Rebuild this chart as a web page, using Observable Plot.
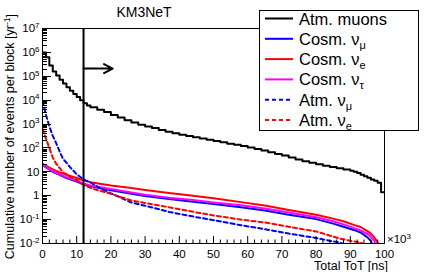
<!DOCTYPE html>
<html><head><meta charset="utf-8">
<script src="https://cdn.jsdelivr.net/npm/d3@7"></script>
<script src="https://cdn.jsdelivr.net/npm/@observablehq/plot@0.6"></script>
<style>
body{margin:0;background:#fff}
svg{font-family:"Liberation Sans",Arial,sans-serif}
</style>
</head><body><div id="chart"></div>
<script>
// ---- data (x in units of 10^3 ns, y in events per block per year) ----
const muX = [0,1,2,3,4,5,6,7,8,9,10,11,12,13,14,16,18,20,22,24,26,28,30,32,34,36,38,40,42,44,46,48,50,52,54,56,58,60,62,64,66,68,70,72,74,76,78,80,82,84,86,88,90,91,92,93,94,95,96,97,98,99,100];
const muY = [1.0e6,6.3e5,2.8e5,1.6e5,1.07e5,7.1e4,5.0e4,3.5e4,2.5e4,1.8e4,1.35e4,1.0e4,7.4e3,6.0e3,5.0e3,4.0e3,3.2e3,2.4e3,1.86e3,1.45e3,1.15e3,930,790,680,560,480,410,355,316,280,250,220,195,175,150,135,120,105,91,79,66,56,48,40,33,28,24,21,18,16,14,12.6,11.2,10,8.9,7.6,6.6,5.6,4.8,4.2,3.5,1.4,1.4];

const cNumuX = [0,1,2,3,5,7,10,12,14,20,26,30,37,44,50,58,65,72,80,85,88,91,93,95,96,97];
const cNumuY = [19,15.5,12.6,10,7.4,5.5,3.9,3.0,2.5,1.7,1.2,0.98,0.73,0.56,0.45,0.33,0.24,0.16,0.105,0.068,0.05,0.037,0.029,0.018,0.013,0.006];

const cNueX = [0,1,2,3,5,7,10,12,14,20,26,30,37,44,50,58,65,72,80,85,88,91,93,95,96,97,98,99];
const cNueY = [22,18,15,12.6,9.5,7.6,5.5,4.4,3.7,2.7,2.1,1.75,1.3,1.0,0.79,0.54,0.39,0.25,0.16,0.11,0.085,0.06,0.049,0.033,0.026,0.018,0.011,0.005];

const cNutauX = [0,1,2,3,5,7,10,12,14,20,26,30,37,44,50,58,65,72,80,85,88,91,93,95,96,97,98];
const cNutauY = [20,16,13,10.5,7.9,5.9,4.2,3.3,2.7,1.9,1.35,1.1,0.83,0.66,0.52,0.4,0.29,0.2,0.126,0.085,0.063,0.045,0.035,0.025,0.019,0.013,0.006];

const aNumuX = [0,1,2,3,4,5,6,7,8,10,12,14,17,20,26,30,37,45,50,58,65,72,80,84,87,89];
const aNumuY = [8900,2500,800,320,160,71,35,24,16,7.9,4.8,3.6,2.0,1.26,0.52,0.38,0.21,0.126,0.095,0.058,0.04,0.026,0.017,0.013,0.011,0.008];

const aNueX = [0,1,2,3,4,6,8,10,12,15,20,26,30,37,45,50,58,65,72,80,87,90,93,95];
const aNueY = [630,250,100,40,22,9.5,6.3,4.6,2.8,1.9,1.2,0.63,0.5,0.33,0.2,0.15,0.1,0.076,0.05,0.032,0.016,0.013,0.011,0.008];

const cutX = [12];
const arrowX = [12, 20.5];
const arrowY = [2.1e5];

const xMajor = [0,10,20,30,40,50,60,70,80,90,100];
const xMinor = d3.range(0, 101, 2);
const yMajor = [1e-2,1e-1,1,10,1e2,1e3,1e4,1e5,1e6,1e7];

const title = "KM3NeT";
const xLabel = "Total ToT [ns]";
const yLabelBase = "Cumulative number of events per block [yr";
const legendLabels = [["Atm. muons",""],["Cosm. ν","μ"],["Cosm. ν","e"],["Cosm. ν","τ"],["Atm. ν","μ"],["Atm. ν","e"]];

const series = [
  {x: muX, y: muY, color: "#000000", dash: null, curve: "step-after"},
  {x: cNumuX, y: cNumuY, color: "#0000ff", dash: null, curve: "linear"},
  {x: cNueX, y: cNueY, color: "#ff0000", dash: null, curve: "linear"},
  {x: cNutauX, y: cNutauY, color: "#ff00ff", dash: null, curve: "linear"},
  {x: aNumuX, y: aNumuY, color: "#0000ff", dash: "4,3", curve: "linear"},
  {x: aNueX, y: aNueY, color: "#ff0000", dash: "4,3", curve: "linear"}
];

const lineMarks = series.map(s => Plot.line(
  s.x.map((x, i) => ({x, y: s.y[i]})),
  {x: "x", y: "y", stroke: s.color, strokeWidth: 2, strokeDasharray: s.dash, curve: s.curve, clip: true}
));

const plot = Plot.plot({
  width: 427, height: 272,
  marginLeft: 42, marginRight: 43, marginTop: 28, marginBottom: 29,
  style: {fontSize: "11.5px", fontFamily: "Liberation Sans, Arial, sans-serif", color: "black", background: "white"},
  x: {domain: [0, 100]},
  y: {type: "log", domain: [1e-2, 1e7]},
  marks: [
    Plot.axisX({ticks: xMajor, tickSize: 0, tickPadding: 6, label: null, tickFormat: d => String(d)}),
    Plot.axisY({ticks: yMajor, tickSize: 0, tickPadding: 3, label: null,
      tickFormat: d => { const e = Math.round(Math.log10(d)); return e === 0 ? "1" : e === 1 ? "10" : "10^" + e; }}),
    ...lineMarks,
    Plot.ruleX(cutX, {x: d => d, stroke: "black", strokeWidth: 2}),
    Plot.arrow([{x1: arrowX[0], x2: arrowX[1], y: arrowY[0]}], {x1: "x1", x2: "x2", y1: "y", y2: "y", stroke: "black", strokeWidth: 2, headLength: 16, headAngle: 55}),
    Plot.frame({stroke: "black"})
  ]
});

document.getElementById("chart").appendChild(plot);
const svg = d3.select(plot);
const sx = plot.scale("x"), sy = plot.scale("y");

// superscripts for y tick labels
svg.selectAll('g[aria-label="y-axis tick label"] text').each(function () {
  const t = this.textContent;
  if (t.includes("^")) {
    const [b, e] = t.split("^");
    const sel = d3.select(this);
    sel.text(b);
    sel.append("tspan").attr("dy", "-0.55em").attr("font-size", "8px").text(e);
  }
});

// inward ticks (ROOT style)
const left = sx.apply(0), bottom = sy.apply(1e-2);
const tg = svg.append("g").attr("stroke", "black").attr("stroke-width", 1);
xMinor.forEach(v => {
  const X = sx.apply(v) + 0.5, len = v % 10 === 0 ? 7 : 3.5;
  tg.append("line").attr("x1", X).attr("x2", X).attr("y1", bottom).attr("y2", bottom - len);
});
yMajor.forEach((v, i) => {
  const Y = Math.round(sy.apply(v)) + 0.5;
  tg.append("line").attr("x1", left).attr("x2", left + 9).attr("y1", Y).attr("y2", Y);
  if (i < yMajor.length - 1) {
    for (let k = 2; k <= 9; k++) {
      const Ym = Math.round(sy.apply(v * k)) + 0.5;
      tg.append("line").attr("x1", left).attr("x2", left + 5).attr("y1", Ym).attr("y2", Ym);
    }
  }
});

// texts
const right = sx.apply(100);
svg.append("text").attr("x", 144).attr("y", 17).attr("text-anchor", "middle").attr("font-size", "14px").text(title);
svg.append("text").attr("x", right + 4).attr("y", 270).attr("text-anchor", "end").attr("font-size", "12.5px").text(xLabel);
const x3 = svg.append("text").attr("x", right + 3).attr("y", 243).attr("text-anchor", "start").attr("font-size", "11.5px").text("×10");
x3.append("tspan").attr("dy", "-0.55em").attr("font-size", "8px").text("3");
const yl = svg.append("text").attr("transform", "translate(14,14) rotate(-90)").attr("text-anchor", "end").attr("font-size", "12.5px").text(yLabelBase);
yl.append("tspan").attr("dy", "-0.5em").attr("font-size", "8.5px").text("-1");
yl.append("tspan").attr("dy", "0.42em").text("]");

// legend
const lg = svg.append("g").attr("text-anchor", "start");
lg.append("rect").attr("x", 259.5).attr("y", 10.5).attr("width", 159).attr("height", 120).attr("fill", "white").attr("stroke", "black");
series.forEach((s, i) => {
  const Y = 18.5 + i * 20.3;
  lg.append("line").attr("x1", 265).attr("x2", 293).attr("y1", Y).attr("y2", Y)
    .attr("stroke", s.color).attr("stroke-width", 2).attr("stroke-dasharray", s.dash);
  const t = lg.append("text").attr("x", 299).attr("y", Y + 6).attr("text-anchor", "start").attr("font-size", "16.5px").text(legendLabels[i][0]);
  if (legendLabels[i][1]) t.append("tspan").attr("dy", "4").attr("font-size", "11px").text(legendLabels[i][1]);
});
</script>
</body></html>
